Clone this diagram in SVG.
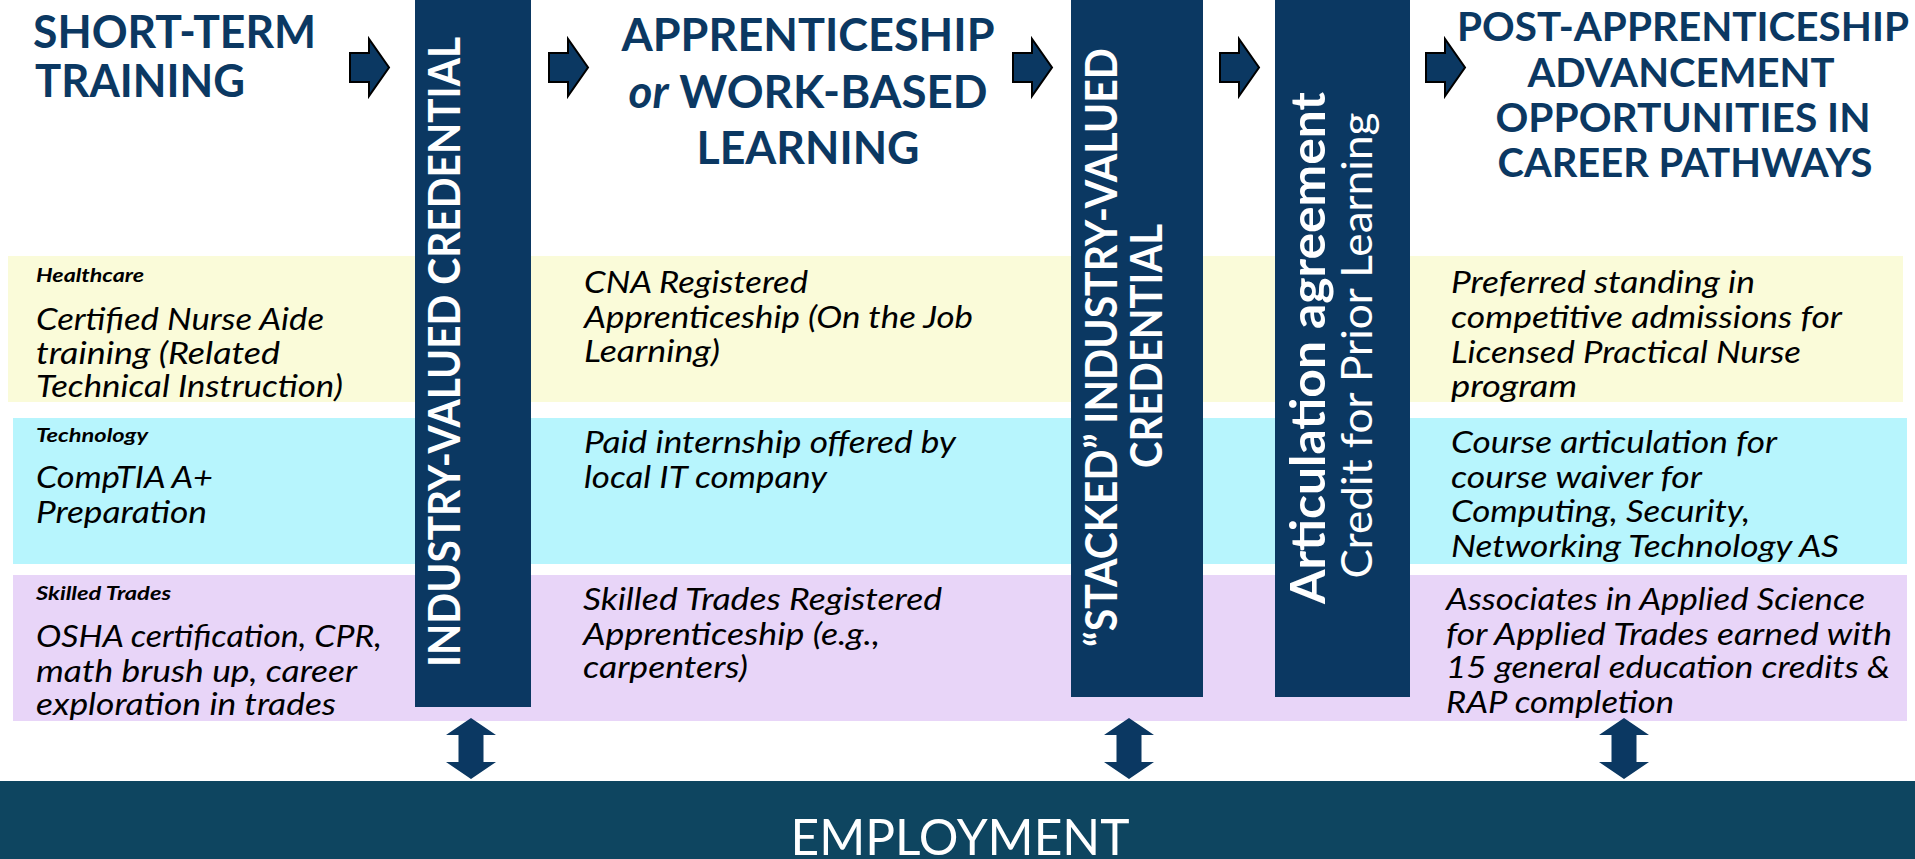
<svg xmlns="http://www.w3.org/2000/svg" width="1915" height="859" viewBox="0 0 1915 859">
<style>
.hd{font-family:Lato,"Open Sans","Liberation Sans",sans-serif;font-weight:700;fill:#0B3862;}
.body{font-family:Lato,"Open Sans","Liberation Sans",sans-serif;font-style:italic;font-size:30px;fill:#000;}
.lab{font-family:Lato,"Open Sans","Liberation Sans",sans-serif;font-style:italic;font-weight:700;font-size:19px;fill:#000;}
.vt{font-family:Lato,"Open Sans","Liberation Sans",sans-serif;fill:#fff;text-anchor:middle;}
.bar{fill:#0B3862;}
.blk{fill:#0B3862;stroke:#000;stroke-width:2;stroke-linejoin:miter;}
.dbl{fill:#0B3862;}
</style>
<rect width="1915" height="859" fill="#fff"/>

<g id="bands">
<rect id="band-healthcare" x="8" y="256" width="1895" height="146" fill="#FAFBD9"/>
<rect id="band-technology" x="13" y="418" width="1894" height="146" fill="#B7F5FD"/>
<rect id="band-trades" x="13" y="575" width="1894" height="146" fill="#E8D5F8"/>
</g>

<g id="header-short-term">
<text class="hd" font-size="46" x="33" y="48" textLength="283" lengthAdjust="spacingAndGlyphs">SHORT-TERM</text>
<text class="hd" font-size="46" x="35" y="97" textLength="210" lengthAdjust="spacingAndGlyphs">TRAINING</text>
</g>

<g id="header-apprenticeship" text-anchor="middle">
<text class="hd" font-size="46" x="808" y="51" textLength="373" lengthAdjust="spacingAndGlyphs">APPRENTICESHIP</text>
<text class="hd" font-size="46" x="808" y="108" textLength="359" lengthAdjust="spacingAndGlyphs"><tspan font-style="italic">or</tspan> WORK-BASED</text>
<text class="hd" font-size="46" x="808" y="164" textLength="223" lengthAdjust="spacingAndGlyphs">LEARNING</text>
</g>

<g id="header-post" text-anchor="middle">
<text class="hd" font-size="40" x="1683" y="41" textLength="452" lengthAdjust="spacingAndGlyphs">POST-APPRENTICESHIP</text>
<text class="hd" font-size="40" x="1681" y="87" textLength="307" lengthAdjust="spacingAndGlyphs">ADVANCEMENT</text>
<text class="hd" font-size="40" x="1683" y="132" textLength="375" lengthAdjust="spacingAndGlyphs">OPPORTUNITIES IN</text>
<text class="hd" font-size="40" x="1685" y="177" textLength="375" lengthAdjust="spacingAndGlyphs">CAREER PATHWAYS</text>
</g>

<g id="col1-text">
<text class="lab" x="36" y="282" textLength="108" lengthAdjust="spacingAndGlyphs">Healthcare</text>
<text class="body" x="36" y="330" textLength="288" lengthAdjust="spacingAndGlyphs">Certified Nurse Aide</text>
<text class="body" x="36" y="364" textLength="244" lengthAdjust="spacingAndGlyphs">training (Related</text>
<text class="body" x="36" y="397" textLength="307" lengthAdjust="spacingAndGlyphs">Technical Instruction)</text>
<text class="lab" x="36" y="442" textLength="112" lengthAdjust="spacingAndGlyphs">Technology</text>
<text class="body" x="36" y="488" textLength="177" lengthAdjust="spacingAndGlyphs">CompTIA A+</text>
<text class="body" x="36" y="523" textLength="171" lengthAdjust="spacingAndGlyphs">Preparation</text>
<text class="lab" x="36" y="600" textLength="135" lengthAdjust="spacingAndGlyphs">Skilled Trades</text>
<text class="body" x="36" y="647" textLength="346" lengthAdjust="spacingAndGlyphs">OSHA certification, CPR,</text>
<text class="body" x="36" y="682" textLength="321" lengthAdjust="spacingAndGlyphs">math brush up, career</text>
<text class="body" x="36" y="715" textLength="300" lengthAdjust="spacingAndGlyphs">exploration in trades</text>
</g>

<g id="col2-text">
<text class="body" x="584" y="293" textLength="224" lengthAdjust="spacingAndGlyphs">CNA Registered</text>
<text class="body" x="584" y="328" textLength="389" lengthAdjust="spacingAndGlyphs">Apprenticeship (On the Job</text>
<text class="body" x="584" y="362" textLength="136" lengthAdjust="spacingAndGlyphs">Learning)</text>
<text class="body" x="584" y="453" textLength="372" lengthAdjust="spacingAndGlyphs">Paid internship offered by</text>
<text class="body" x="584" y="488" textLength="243" lengthAdjust="spacingAndGlyphs">local IT company</text>
<text class="body" x="583" y="610" textLength="359" lengthAdjust="spacingAndGlyphs">Skilled Trades Registered</text>
<text class="body" x="583" y="645" textLength="297" lengthAdjust="spacingAndGlyphs">Apprenticeship (e.g.,</text>
<text class="body" x="583" y="678" textLength="165" lengthAdjust="spacingAndGlyphs">carpenters)</text>
</g>

<g id="col3-text">
<text class="body" x="1451" y="293" textLength="304" lengthAdjust="spacingAndGlyphs">Preferred standing in</text>
<text class="body" x="1451" y="328" textLength="391" lengthAdjust="spacingAndGlyphs">competitive admissions for</text>
<text class="body" x="1451" y="363" textLength="350" lengthAdjust="spacingAndGlyphs">Licensed Practical Nurse</text>
<text class="body" x="1451" y="397" textLength="126" lengthAdjust="spacingAndGlyphs">program</text>
<text class="body" x="1451" y="453" textLength="326" lengthAdjust="spacingAndGlyphs">Course articulation for</text>
<text class="body" x="1451" y="488" textLength="251" lengthAdjust="spacingAndGlyphs">course waiver for</text>
<text class="body" x="1451" y="522" textLength="299" lengthAdjust="spacingAndGlyphs">Computing, Security,</text>
<text class="body" x="1451" y="557" textLength="388" lengthAdjust="spacingAndGlyphs">Networking Technology AS</text>
<text class="body" x="1446" y="610" textLength="419" lengthAdjust="spacingAndGlyphs">Associates in Applied Science</text>
<text class="body" x="1446" y="645" textLength="446" lengthAdjust="spacingAndGlyphs">for Applied Trades earned with</text>
<text class="body" x="1446" y="678" textLength="444" lengthAdjust="spacingAndGlyphs">15 general education credits &amp;</text>
<text class="body" x="1446" y="713" textLength="228" lengthAdjust="spacingAndGlyphs">RAP completion</text>
</g>

<g id="bar-industry-credential">
<rect class="bar" x="415" y="0" width="116" height="707"/>
<text class="vt" font-weight="700" font-size="43" transform="translate(460,352) rotate(-90)" textLength="630" lengthAdjust="spacingAndGlyphs">INDUSTRY-VALUED CREDENTIAL</text>
</g>

<g id="bar-stacked-credential">
<rect class="bar" x="1071" y="0" width="132" height="697"/>
<text class="vt" font-weight="700" font-size="43" transform="translate(1117,347.5) rotate(-90)" textLength="599" lengthAdjust="spacingAndGlyphs">“STACKED” INDUSTRY-VALUED</text>
<text class="vt" font-weight="700" font-size="43" transform="translate(1162,346) rotate(-90)" textLength="244" lengthAdjust="spacingAndGlyphs">CREDENTIAL</text>
</g>

<g id="bar-articulation">
<rect class="bar" x="1275" y="0" width="135" height="697"/>
<text class="vt" font-weight="700" font-size="48" transform="translate(1325,348) rotate(-90)" textLength="512" lengthAdjust="spacingAndGlyphs">Articulation agreement</text>
<text class="vt" font-weight="400" font-size="42" transform="translate(1372,345.5) rotate(-90)" textLength="466" lengthAdjust="spacingAndGlyphs">Credit for Prior Learning</text>
</g>

<g id="employment">
<rect x="0" y="781" width="1915" height="78" fill="#0E4560"/>
<text x="960" y="855" text-anchor="middle" font-family="Lato,'Open Sans','Liberation Sans',sans-serif" font-size="50" fill="#fff" textLength="339" lengthAdjust="spacingAndGlyphs">EMPLOYMENT</text>
</g>

<g id="connectors">
<polygon class="blk" points="350,53 369,53 369,39 389,67.5 369,96 369,82 350,82"/>
<polygon class="blk" points="549,53 568,53 568,39 588,67.5 568,96 568,82 549,82"/>
<polygon class="blk" points="1013,53 1032,53 1032,39 1052,67.5 1032,96 1032,82 1013,82"/>
<polygon class="blk" points="1220,53 1239,53 1239,39 1259,67.5 1239,96 1239,82 1220,82"/>
<polygon class="blk" points="1426,53 1445,53 1445,39 1465,67.5 1445,96 1445,82 1426,82"/>
<polygon class="dbl" points="471,718 496,735 483.5,735 483.5,762 496,762 471,779 446,762 458.5,762 458.5,735 446,735"/>
<polygon class="dbl" points="1129,718 1154,735 1141.5,735 1141.5,762 1154,762 1129,779 1104,762 1116.5,762 1116.5,735 1104,735"/>
<polygon class="dbl" points="1624,718 1649,735 1636.5,735 1636.5,762 1649,762 1624,779 1599,762 1611.5,762 1611.5,735 1599,735"/>
</g>
</svg>
